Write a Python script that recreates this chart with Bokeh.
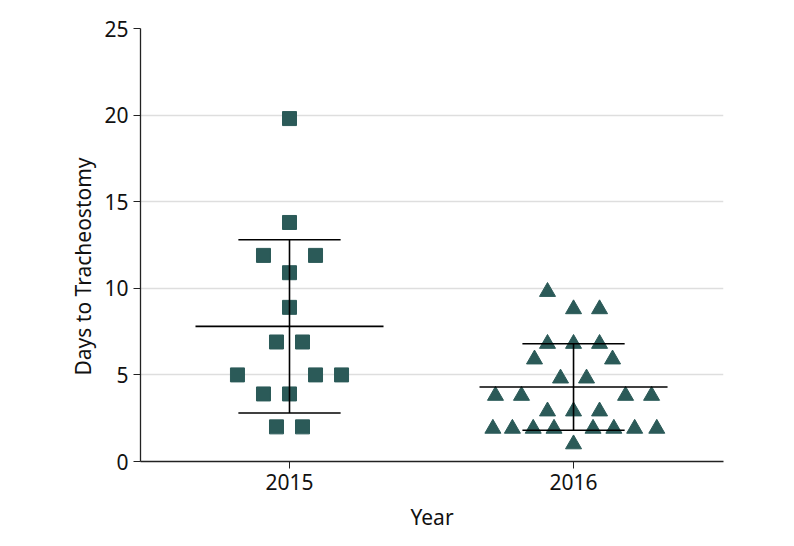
from bokeh.plotting import figure
from bokeh.models import FixedTicker, ColumnDataSource, Range1d, Title
from bokeh.embed import file_html
from bokeh.resources import INLINE

years = ["2015", "2016"]
days_2015 = [19.8, 13.8, 11.9, 11.9, 10.9, 8.9, 6.9, 6.9, 5.0, 5.0, 5.0, 3.9, 3.9, 2.0, 2.0]
slot_2015 = [0, 0, -2, 2, 0, 0, -1, 1, -4, 2, 4, -2, 0, -1, 1]
days_2016 = [9.8, 8.8, 8.8, 6.8, 6.8, 6.8, 5.9, 5.9, 4.8, 4.8, 3.8, 3.8, 3.8, 3.8,
             2.9, 2.9, 2.9, 1.9, 1.9, 1.9, 1.9, 1.9, 1.9, 1.9, 1.9, 1.0]
slot_2016 = [-2, 0, 2, -2, 0, 2, -3, 3, -1, 1, -6, -4, 4, 6, -2, 0, 2,
             -6.2, -4.7, -3.1, -1.5, 1.5, 3.1, 4.7, 6.4, 0]
means = [7.8, 4.3]
sds = [5.0, 2.5]
y_ticks = [0, 5, 10, 15, 20, 25]

COLOR = "#2b5a58"
SLOT = 0.0458      # x data units per half marker slot
MEAN_HW = 0.331
SD_HW = 0.18
FONT = "Noto Sans"
X0, X1 = 0.4754, 2.528

p = figure(width=790, height=538, output_backend="svg", toolbar_location=None,
           x_range=Range1d(X0, X1), y_range=Range1d(0, 25),
           min_border_left=140, min_border_right=67, min_border_top=28, min_border_bottom=77)
p.outline_line_color = None
p.background_fill_color = "white"

s15 = ColumnDataSource(dict(x=[1 + s * SLOT for s in slot_2015], y=days_2015))
s16 = ColumnDataSource(dict(x=[2 + s * SLOT for s in slot_2016], y=days_2016))
p.scatter("x", "y", source=s15, marker="square", size=14, color=COLOR)
p.scatter("x", "y", source=s16, marker="triangle", size=16, color=COLOR)

xc = [1, 2]
p.segment(x0=[c - MEAN_HW for c in xc], x1=[c + MEAN_HW for c in xc], y0=means, y1=means,
          line_color="black", line_width=1.6)
lo = [m - s for m, s in zip(means, sds)]
hi = [m + s for m, s in zip(means, sds)]
p.segment(x0=[c - SD_HW for c in xc], x1=[c + SD_HW for c in xc], y0=lo, y1=lo,
          line_color="black", line_width=1.6)
p.segment(x0=[c - SD_HW for c in xc], x1=[c + SD_HW for c in xc], y0=hi, y1=hi,
          line_color="black", line_width=1.6)
p.segment(x0=xc, x1=xc, y0=lo, y1=hi, line_color="black", line_width=1.6)

p.xaxis.ticker = FixedTicker(ticks=xc)
p.xaxis.major_label_overrides = {1: years[0], 2: years[1]}
p.yaxis.ticker = FixedTicker(ticks=y_ticks)
p.xgrid.grid_line_color = None
p.ygrid.grid_line_color = "#dedede"
p.ygrid.grid_line_width = 1.5

for ax in (p.xaxis, p.yaxis):
    ax.axis_line_color = "#222222"
    ax.axis_line_width = 1.3
    ax.major_tick_line_color = "#222222"
    ax.major_tick_out = 7
    ax.major_tick_in = 0
    ax.minor_tick_line_color = None
    ax.major_label_text_font = FONT
    ax.major_label_text_font_size = "21px"
    ax.major_label_text_color = "#111111"
    ax.axis_label_text_font = FONT
    ax.axis_label_text_font_size = "21px"
    ax.axis_label_text_font_style = "normal"
    ax.axis_label_text_color = "#111111"

p.xaxis.axis_label = "Year"
p.xaxis.major_label_standoff = 5
p.yaxis.major_label_standoff = 5
p.xaxis.axis_label_standoff = 10

# y-axis title, placed slightly below the frame's centre as in the original
p.add_layout(Title(text="Days to Tracheostomy", align="left", offset=86, standoff=10,
                   text_font=FONT, text_font_size="21px", text_font_style="normal",
                   text_color="#111111"), "left")

open("out.html", "w").write(file_html(p, INLINE))
